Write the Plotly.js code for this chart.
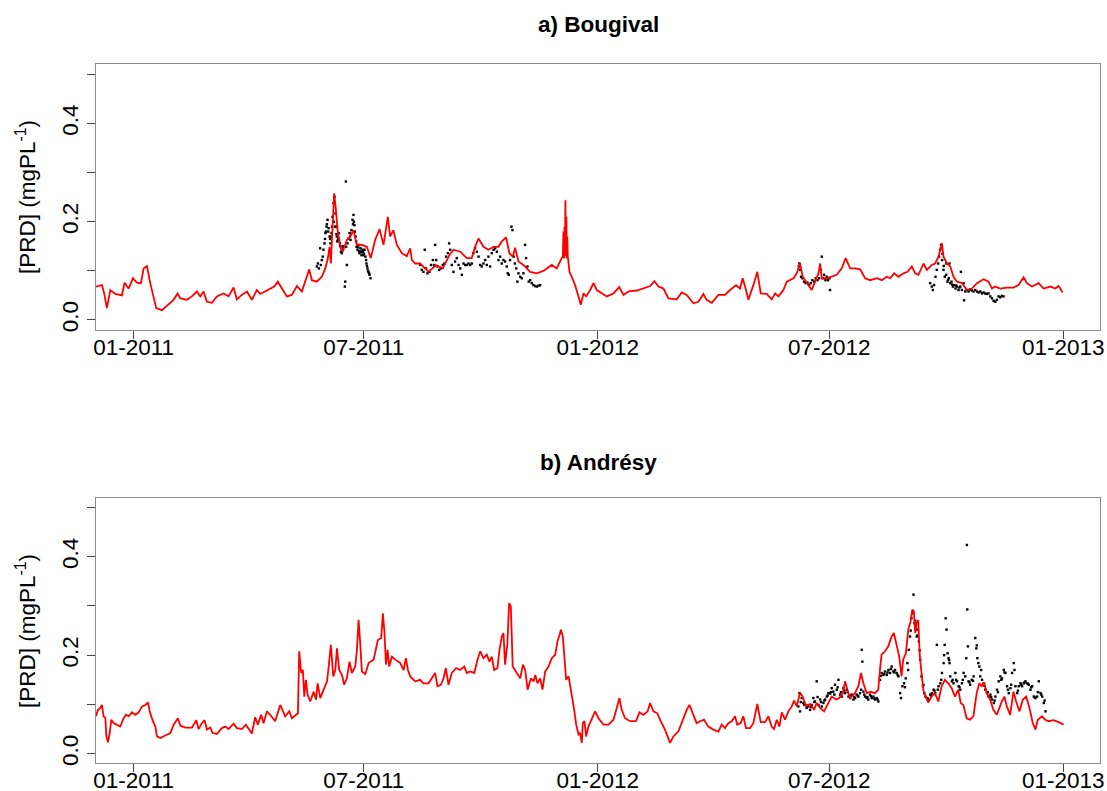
<!DOCTYPE html>
<html>
<head>
<meta charset="utf-8">
<script src="https://cdn.plot.ly/plotly-3.0.1.min.js"></script>
<style>html,body{margin:0;padding:0;background:#fff;}#chart{width:1107px;height:791px;}</style>
</head>
<body>
<div id="chart"></div>
<script>
// Days counted from 2011-01-01
const xTickVals = ['2011-01-01','2011-07-01','2012-01-01','2012-07-01','2013-01-01'];
const xTickText = ['01-2011','07-2011','01-2012','07-2012','01-2013'];
const yTickVals = [0, 0.2, 0.4];
const yTickText = ['0.0', '0.2', '0.4'];
const panelTitles = ['a) Bougival', 'b) Andrésy'];
const yTitle = '[PRD] (mgPL<sup>-1</sup>)';

// a) Bougival - simulated (red line)
const bougivalSimDays = [-29.6,-24.9,-23.1,-21.0,-18.3,-14.4,-9.2,-7.1,-3.9,-0.5,2.6,5.8,7.9,10.5,13.1,15.2,17.8,22.3,26.7,31.4,34.6,36.7,41.9,45.8,49.8,52.4,55.0,57.6,61.6,65.5,70.7,74.7,78.6,81.2,85.1,89.1,93.0,96.9,99.6,103.5,107.4,110.6,113.4,116.6,120.5,124.4,128.4,132.3,134.9,138.1,140.2,144.1,148.0,150.7,152.5,154.1,155.1,156.4,157.7,159.0,160.4,162.4,164.5,167.7,170.3,172.9,175.5,179.5,183.4,186.5,189.9,193.4,196.5,199.9,201.7,204.3,207.0,210.9,214.8,217.5,218.8,221.4,
225.3,231.9,237.8,243.1,248.3,251.5,256.8,262.0,265.9,268.5,271.2,275.1,279.0,283.0,286.9,289.5,292.9,295.5,298.2,300.0,302.6,306.5,311.8,317.0,322.2,328.8,332.7,336.6,337.5,338.0,338.4,338.8,339.2,339.5,339.9,340.3,340.6,341.0,341.4,342.7,344.5,347.1,349.8,351.6,353.7,355.8,359.0,361.6,364.2,368.1,372.1,377.3,381.8,385.2,389.2,395.7,401.0,406.2,409.5,412.7,416.6,420.5,427.1,431.0,434.9,440.2,444.1,448.0,450.6,454.6,459.8,465.0,469.0,473.7,476.8,478.9,481.5,483.4,
487.8,490.4,493.1,497.8,501.7,504.4,507.0,510.9,513.6,518.8,521.4,524.0,526.1,529.8,533.2,535.8,538.5,539.8,541.1,545.0,548.9,552.9,556.8,559.9,563.4,567.3,571.3,575.2,579.1,584.4,588.3,592.2,594.9,598.0,601.4,605.3,608.5,611.9,614.5,617.1,621.1,623.7,627.6,630.2,632.9,634.7,635.5,636.8,639.5,642.1,644.7,647.3,651.3,655.2,659.1,663.1,668.3,672.2,674.9,677.5,681.4,686.7,691.9,695.8,699.8,702.4,706.4,711.6,715.5,720.8,724.7,727.3,730.5];
const bougivalSimVals = [0.068,0.071,0.054,0.024,0.061,0.053,0.050,0.076,0.064,0.085,0.076,0.075,0.105,0.110,0.075,0.051,0.024,0.020,0.031,0.041,0.054,0.044,0.041,0.048,0.058,0.048,0.058,0.037,0.035,0.048,0.054,0.048,0.066,0.042,0.051,0.058,0.041,0.061,0.053,0.058,0.064,0.068,0.078,0.064,0.048,0.051,0.069,0.058,0.078,0.103,0.081,0.078,0.088,0.105,0.122,0.149,0.115,0.183,0.258,0.227,0.183,0.153,0.139,0.163,0.170,0.183,0.153,0.153,0.149,0.126,0.163,0.185,0.153,0.210,0.170,0.183,0.153,0.136,0.130,0.146,0.122,0.115,
0.115,0.098,0.112,0.105,0.132,0.143,0.139,0.126,0.126,0.149,0.166,0.149,0.143,0.149,0.149,0.160,0.168,0.136,0.129,0.147,0.119,0.112,0.098,0.095,0.100,0.112,0.105,0.126,0.130,0.180,0.125,0.190,0.130,0.244,0.140,0.210,0.125,0.170,0.130,0.098,0.088,0.071,0.048,0.031,0.054,0.048,0.061,0.075,0.061,0.054,0.048,0.054,0.067,0.051,0.058,0.060,0.064,0.069,0.079,0.068,0.064,0.044,0.042,0.056,0.051,0.034,0.037,0.053,0.041,0.035,0.051,0.051,0.061,0.071,0.064,0.085,0.061,0.041,
0.075,0.098,0.054,0.053,0.042,0.054,0.048,0.061,0.078,0.085,0.095,0.115,0.088,0.075,0.061,0.078,0.095,0.115,0.085,0.085,0.088,0.092,0.105,0.126,0.105,0.105,0.103,0.085,0.081,0.085,0.081,0.088,0.085,0.095,0.088,0.095,0.098,0.109,0.095,0.092,0.115,0.102,0.112,0.115,0.129,0.149,0.156,0.129,0.115,0.109,0.088,0.078,0.075,0.061,0.064,0.075,0.083,0.078,0.064,0.068,0.064,0.066,0.066,0.071,0.087,0.075,0.068,0.075,0.064,0.068,0.064,0.069,0.056];

// a) Bougival - observed (black dots)
const bougivalObsDays = [144.1,144.9,145.7,146.7,147.2,148.0,148.8,149.3,150.1,150.9,151.7,152.5,153.3,154.1,154.8,155.6,156.4,157.2,158.0,158.8,159.3,159.8,160.6,161.4,162.2,163.0,163.7,164.5,165.3,166.1,166.4,166.9,167.1,167.7,168.2,169.0,169.8,170.6,171.3,172.1,172.9,173.7,174.5,175.3,176.1,176.8,177.6,178.4,179.2,180.0,180.8,181.6,182.3,183.1,183.9,184.7,185.5,186.3,
150.5,151.2,152.0,153.0,154.5,155.2,156.0,157.5,158.5,159.5,160.2,161.0,162.5,163.5,164.8,170.2,171.0,172.5,173.2,174.0,175.0,176.5,177.2,178.0,179.6,180.4,181.2,182.8,183.5,184.3,185.1,
225.3,226.6,227.9,228.9,230.0,231.1,232.6,233.9,235.3,236.3,237.1,237.9,238.9,240.2,241.6,243.1,244.4,245.7,247.1,248.1,248.9,250.2,251.5,252.8,254.1,255.5,256.8,258.1,259.4,260.7,262.0,263.3,264.6,265.9,267.2,268.5,269.9,271.2,272.5,273.8,275.1,276.4,277.7,279.0,280.3,281.6,283.0,284.3,285.6,286.9,288.2,289.5,290.8,292.1,293.4,294.2,295.0,296.0,297.1,297.9,298.8,299.8,300.9,301.8,302.6,304.0,305.2,306.5,307.8,308.6,309.7,310.7,311.8,313.1,314.4,315.7,317.0,318.4,319.7,
523.0,523.5,524.0,524.8,525.8,527.1,528.4,529.8,531.1,532.4,533.7,535.0,536.3,537.7,539.0,540.3,541.1,541.9,542.9,544.0,545.0,546.1,547.1,547.6,
626.3,627.6,628.4,629.4,630.5,631.5,632.6,633.3,634.1,634.9,635.7,636.8,637.8,638.9,639.9,641.0,642.1,643.1,644.2,645.2,646.3,647.3,648.6,650.0,651.3,652.6,653.9,655.2,656.5,657.8,659.1,660.4,661.7,663.1,664.4,665.7,667.0,668.3,669.6,670.9,672.2,673.6,674.9,676.2,677.5,678.8,680.1,681.4,682.7,684.0,
639.0,641.5,650.5,653.0,636.0,637.0,640.5,643.6,646.8,649.3];
const bougivalObsVals = [0.109,0.115,0.105,0.146,0.112,0.122,0.129,0.143,0.156,0.177,0.190,0.204,0.187,0.170,0.156,0.177,0.210,0.238,0.251,0.217,0.190,0.170,0.163,0.177,0.156,0.139,0.136,0.143,0.149,0.068,0.078,0.282,0.149,0.112,0.156,0.166,0.177,0.163,0.183,0.204,0.214,0.193,0.170,0.149,0.143,0.153,0.136,0.146,0.132,0.143,0.132,0.143,0.129,0.115,0.105,0.098,0.092,0.085,
0.165,0.180,0.195,0.180,0.165,0.170,0.190,0.200,0.190,0.175,0.160,0.165,0.150,0.145,0.150,0.170,0.175,0.195,0.200,0.180,0.160,0.148,0.140,0.140,0.138,0.138,0.135,0.122,0.110,0.100,0.095,
0.112,0.102,0.098,0.143,0.105,0.095,0.098,0.112,0.122,0.112,0.153,0.122,0.109,0.102,0.105,0.112,0.115,0.129,0.136,0.156,0.143,0.112,0.098,0.119,0.126,0.112,0.105,0.092,0.115,0.112,0.112,0.115,0.112,0.115,0.136,0.146,0.139,0.129,0.112,0.109,0.115,0.122,0.112,0.129,0.109,0.136,0.143,0.146,0.139,0.122,0.129,0.115,0.122,0.119,0.109,0.095,0.092,0.122,0.190,0.183,0.129,0.115,0.105,0.078,0.095,0.088,0.085,0.095,0.153,0.126,0.109,0.078,0.081,0.075,0.071,0.069,0.068,0.070,0.071,
0.109,0.115,0.102,0.088,0.085,0.078,0.075,0.076,0.071,0.075,0.081,0.078,0.085,0.081,0.085,0.102,0.129,0.085,0.092,0.081,0.088,0.081,0.085,0.061,
0.075,0.068,0.061,0.071,0.088,0.102,0.115,0.129,0.143,0.153,0.122,0.102,0.088,0.092,0.078,0.085,0.075,0.078,0.068,0.071,0.064,0.068,0.061,0.068,0.061,0.075,0.058,0.061,0.058,0.062,0.060,0.058,0.061,0.058,0.056,0.058,0.054,0.056,0.054,0.053,0.054,0.048,0.044,0.039,0.037,0.041,0.048,0.046,0.049,0.048,
0.115,0.115,0.098,0.040,0.135,0.110,0.082,0.072,0.070,0.066];

// b) Andresy - simulated (red line)
const andresySimDays = [-29.6,-28.0,-26.2,-24.9,-23.6,-22.2,-21.4,-20.1,-18.8,-17.5,-15.7,-13.1,-10.5,-7.8,-6.0,-3.9,-1.3,1.3,4.0,6.6,9.2,11.3,13.1,15.2,17.1,18.4,21.0,24.9,28.9,31.5,34.9,36.7,40.6,45.9,49.3,51.1,53.7,55.8,57.7,60.3,62.1,65.5,69.4,72.0,74.7,78.6,81.2,85.1,88.3,93.0,95.6,97.7,100.3,102.2,104.8,107.4,111.3,115.3,119.2,122.4,124.5,129.2,130.2,131.8,133.1,134.2,135.5,136.8,138.9,141.6,143.4,144.7,146.8,149.4,152.1,153.4,155.1,157.0,158.6,159.9,161.7,163.8,165.6,167.7,169.8,171.6,174.3,175.6,176.9,178.2,179.5,182.2,184.8,188.7,192.1,194.7,196.0,197.3,198.4,199.7,201.0,203.1,205.7,209.7,212.3,214.1,215.7,217.5,221.4,
225.3,227.9,231.9,234.5,237.1,238.9,241.6,243.7,245.5,247.6,250.2,253.6,256.8,260.0,262.0,264.6,267.9,270.4,272.6,275.1,277.7,279.8,281.6,283.5,286.1,287.7,289.5,290.8,292.1,293.9,295.3,296.6,298.1,301.3,304.0,306.1,307.9,309.8,312.4,314.5,315.8,317.6,319.7,321.5,323.6,326.2,328.8,331.5,333.3,334.9,336.0,337.5,338.6,340.1,342.0,343.3,345.1,346.4,348.0,349.8,351.1,352.4,353.2,354.5,355.8,357.6,360.3,362.9,365.5,369.4,373.4,377.3,379.9,382.0,383.8,386.4,390.3,395.1,397.7,400.8,404.2,406.1,408.7,411.8,413.9,417.8,421.8,424.4,428.3,431.7,434.9,437.0,439.6,442.7,445.4,448.5,451.9,455.8,459.8,462.4,465.0,467.6,470.3,472.9,474.7,477.3,479.4,481.5,
484.7,487.3,490.4,493.1,496.5,499.1,501.7,503.6,505.7,507.8,509.6,512.2,514.8,517.5,519.3,521.4,524.0,526.1,528.8,531.9,535.0,537.1,539.8,542.9,545.5,548.9,552.3,554.9,557.6,559.4,561.2,563.3,567.2,569.9,571.9,573.8,576.4,579.5,582.9,585.5,586.8,588.1,590.8,593.4,596.0,597.8,599.9,602.0,603.8,605.1,607.2,609.1,610.9,612.2,613.5,614.6,615.6,616.9,618.2,619.6,620.9,622.7,624.8,627.4,630.0,632.7,635.3,637.9,640.6,643.2,645.8,648.4,650.3,652.4,655.0,657.6,660.3,662.9,665.0,666.8,668.7,670.8,673.4,676.0,678.7,680.8,682.6,684.7,686.6,689.2,691.8,693.9,696.5,699.2,701.8,704.4,707.0,709.1,711.0,714.2,716.8,719.4,723.4,727.3,731.2];
const andresySimVals = [0.076,0.089,0.093,0.099,0.076,0.072,0.035,0.023,0.042,0.069,0.062,0.059,0.055,0.072,0.079,0.076,0.084,0.079,0.084,0.096,0.099,0.104,0.082,0.066,0.055,0.035,0.032,0.037,0.042,0.059,0.072,0.057,0.053,0.053,0.068,0.050,0.062,0.068,0.049,0.053,0.042,0.040,0.052,0.055,0.050,0.061,0.052,0.050,0.059,0.041,0.074,0.059,0.079,0.062,0.086,0.079,0.066,0.099,0.076,0.086,0.072,0.082,0.208,0.164,0.170,0.116,0.150,0.120,0.106,0.126,0.110,0.143,0.113,0.130,0.147,0.177,0.221,0.157,0.170,0.214,0.170,0.160,0.140,0.153,0.187,0.164,0.177,0.211,0.272,0.224,0.167,0.162,0.184,0.191,0.231,0.235,0.285,0.245,0.181,0.211,0.177,0.197,0.191,0.184,0.170,0.194,0.170,0.157,0.147,
0.150,0.143,0.143,0.153,0.164,0.137,0.140,0.153,0.174,0.140,0.164,0.174,0.170,0.177,0.164,0.167,0.164,0.191,0.208,0.194,0.201,0.187,0.197,0.170,0.174,0.211,0.238,0.245,0.181,0.224,0.306,0.299,0.177,0.164,0.153,0.181,0.170,0.130,0.153,0.147,0.160,0.143,0.153,0.130,0.167,0.177,0.194,0.201,0.228,0.241,0.252,0.238,0.197,0.150,0.157,0.133,0.110,0.089,0.059,0.039,0.042,0.022,0.062,0.066,0.035,0.055,0.072,0.086,0.072,0.059,0.059,0.069,0.093,0.113,0.089,0.072,0.066,0.066,0.084,0.079,0.086,0.103,0.086,0.082,0.069,0.049,0.022,0.035,0.045,0.069,0.089,0.099,0.082,0.062,0.066,0.069,0.055,0.049,0.045,0.059,0.052,0.062,0.066,0.076,0.059,0.062,0.076,0.052,
0.052,0.062,0.101,0.064,0.064,0.076,0.055,0.050,0.069,0.055,0.084,0.069,0.086,0.096,0.108,0.096,0.124,0.116,0.096,0.101,0.089,0.103,0.093,0.086,0.099,0.116,0.110,0.113,0.123,0.147,0.130,0.113,0.123,0.137,0.164,0.143,0.123,0.126,0.123,0.130,0.170,0.201,0.208,0.218,0.238,0.245,0.221,0.197,0.157,0.191,0.204,0.252,0.268,0.292,0.289,0.245,0.265,0.272,0.197,0.157,0.130,0.116,0.104,0.116,0.123,0.106,0.137,0.150,0.143,0.133,0.116,0.130,0.103,0.099,0.072,0.069,0.076,0.123,0.143,0.137,0.145,0.123,0.110,0.089,0.079,0.093,0.106,0.116,0.096,0.079,0.126,0.106,0.086,0.110,0.116,0.093,0.062,0.049,0.069,0.076,0.069,0.066,0.068,0.064,0.059];

// b) Andresy - observed (black dots)
const andresyObsDays = [522.7,523.5,524.0,525.3,526.6,527.9,529.2,530.5,531.9,533.2,534.5,535.8,537.1,538.5,539.8,541.1,542.4,543.7,545.0,546.3,547.6,548.9,550.2,551.5,552.9,554.2,555.5,556.8,558.1,559.4,560.8,562.1,563.4,564.7,566.0,567.3,568.5,569.9,571.2,572.5,573.0,573.8,575.1,576.4,577.7,579.0,580.4,581.7,583.0,584.3,585.6,586.9,588.2,589.5,590.8,592.2,593.5,594.8,596.1,597.4,598.7,600.0,601.4,602.7,603.4,604.5,605.8,607.1,608.4,609.5,610.5,611.6,612.4,613.2,614.0,615.0,615.8,616.6,617.4,618.5,619.5,620.6,621.7,622.7,623.8,625.1,626.4,627.7,629.0,630.3,631.6,632.9,634.3,635.6,636.9,637.7,638.5,639.2,640.0,640.8,641.6,642.1,643.4,644.7,646.1,647.4,648.7,650.0,651.3,652.6,653.9,654.7,655.2,655.5,656.0,656.5,657.8,659.1,660.5,661.8,662.6,663.4,664.2,665.0,665.7,667.1,668.4,669.7,671.0,672.3,673.7,675.0,676.3,677.6,678.9,680.2,681.5,682.8,684.2,685.5,686.8,688.1,689.4,690.7,692.0,693.4,694.7,696.0,697.3,698.6,699.9,701.2,702.6,703.9,705.2,706.5,707.8,709.1,710.4,711.7,713.1,714.4,715.7,717.0,
524.6,527.2,529.9,532.5,535.2,537.8,540.5,543.1,545.7,548.3,551.0,553.6,556.2,558.8,561.5,564.1,566.7,569.3,572.0,574.5,577.0,579.7,582.4,585.0,587.5,590.2,592.8,595.5,598.1,600.7,606.5,609.0,611.0,612.8,614.5,616.2,618.0,621.0,624.5,627.0,629.7,632.3,635.0,637.3,641.2,644.0,646.7,649.4,652.0,657.2,660.0,663.0,666.4,669.0,671.6,674.3,677.0,679.6,682.2,684.8,687.4,690.0,692.6,695.3,698.0,700.6,703.2,705.8,708.4,711.0,713.7,716.3];
const andresyObsVals = [0.096,0.123,0.086,0.113,0.103,0.099,0.093,0.096,0.089,0.099,0.113,0.106,0.147,0.099,0.110,0.096,0.103,0.110,0.116,0.123,0.122,0.133,0.126,0.140,0.130,0.150,0.120,0.116,0.133,0.123,0.130,0.116,0.113,0.120,0.110,0.113,0.120,0.116,0.123,0.211,0.187,0.126,0.116,0.113,0.110,0.120,0.113,0.116,0.110,0.113,0.106,0.150,0.164,0.160,0.167,0.160,0.170,0.164,0.177,0.167,0.170,0.164,0.157,0.123,0.113,0.137,0.143,0.153,0.184,0.211,0.238,0.275,0.285,0.323,0.265,0.252,0.238,0.252,0.228,0.191,0.157,0.137,0.123,0.116,0.113,0.110,0.120,0.123,0.130,0.123,0.221,0.137,0.143,0.164,0.184,0.221,0.275,0.252,0.204,0.194,0.184,0.157,0.147,0.143,0.164,0.147,0.137,0.130,0.143,0.164,0.157,0.194,0.424,0.293,0.218,0.147,0.140,0.150,0.157,0.235,0.214,0.194,0.184,0.177,0.157,0.150,0.143,0.130,0.123,0.116,0.120,0.110,0.103,0.116,0.130,0.147,0.157,0.153,0.170,0.164,0.137,0.123,0.133,0.164,0.184,0.137,0.123,0.137,0.143,0.137,0.143,0.147,0.143,0.140,0.130,0.137,0.116,0.113,0.116,0.147,0.123,0.116,0.103,0.086,
0.105,0.100,0.098,0.095,0.105,0.115,0.105,0.108,0.118,0.125,0.120,0.135,0.125,0.128,0.125,0.118,0.115,0.118,0.130,0.120,0.115,0.117,0.112,0.110,0.158,0.162,0.165,0.172,0.165,0.160,0.135,0.170,0.250,0.290,0.270,0.240,0.210,0.140,0.112,0.118,0.128,0.130,0.150,0.200,0.190,0.150,0.150,0.135,0.150,0.145,0.148,0.220,0.170,0.138,0.125,0.115,0.108,0.125,0.150,0.165,0.130,0.140,0.170,0.128,0.140,0.145,0.142,0.135,0.115,0.125,0.120,0.108];

const BASE = Date.UTC(2011, 0, 1);
function toDate(d) {
  return new Date(BASE + Math.round(d * 86400000)).toISOString().slice(0, 19).replace('T', ' ');
}

const FONT = 'Liberation Sans, Arial, Helvetica, sans-serif';
const FS = 22.5;
const xRange = ['2010-12-02 10:48', '2013-01-29 20:24'];

function obsTrace(days, vals, xa, ya) {
  return { type: 'scatter', mode: 'markers', x: days.map(toDate), y: vals, xaxis: xa, yaxis: ya,
    marker: { color: '#000000', size: 2.4, symbol: 'square' }, hoverinfo: 'x+y', name: 'observed' };
}
function simTrace(days, vals, xa, ya) {
  return { type: 'scatter', mode: 'lines', x: days.map(toDate), y: vals, xaxis: xa, yaxis: ya,
    line: { color: '#ff0000', width: 1.8 }, name: 'simulated' };
}

const data = [
  obsTrace(bougivalObsDays, bougivalObsVals, 'x', 'y'),
  simTrace(bougivalSimDays, bougivalSimVals, 'x', 'y'),
  obsTrace(andresyObsDays, andresyObsVals, 'x2', 'y2'),
  simTrace(andresySimDays, andresySimVals, 'x2', 'y2')
];

function xAxis(anchor) {
  return { type: 'date', range: xRange, anchor: anchor, domain: [0, 1],
    tickmode: 'array', tickvals: xTickVals, ticktext: xTickText,
    ticks: 'outside', ticklen: 8, tickwidth: 1, tickcolor: '#444',
    showline: true, mirror: true, linecolor: '#8c8c8c', linewidth: 1,
    showgrid: false, zeroline: false, ticklabelstandoff: -11,
    tickfont: { family: FONT, size: FS, color: '#000' } };
}
function yAxis(anchor, domain, range) {
  return { anchor: anchor, domain: domain, range: range,
    tickmode: 'array', tickvals: yTickVals, ticktext: yTickText, tickangle: -90,
    ticks: 'outside', ticklen: 8, tickwidth: 1, tickcolor: '#444',
    minor: { tick0: 0, dtick: 0.1, ticks: 'outside', ticklen: 8, tickwidth: 1, tickcolor: '#444', showgrid: false },
    showline: true, mirror: true, linecolor: '#8c8c8c', linewidth: 1,
    showgrid: false, zeroline: false, ticklabelstandoff: 0,
    tickfont: { family: FONT, size: FS, color: '#000' } };
}

const layout = {
  width: 1107, height: 791,
  margin: { l: 96, r: 7, t: 64, b: 28 },
  paper_bgcolor: '#ffffff', plot_bgcolor: '#ffffff',
  showlegend: false,
  font: { family: FONT, size: FS, color: '#000' },
  xaxis: xAxis('y'),
  yaxis: yAxis('x', [0.6195, 1], [-0.0204, 0.5214]),
  xaxis2: xAxis('y2'),
  yaxis2: yAxis('x2', [0, 0.3791], [-0.0189, 0.5193]),
  annotations: [
    { text: '<b>' + panelTitles[0] + '</b>', xref: 'paper', yref: 'paper', x: 0.5, y: 1.0558,
      xanchor: 'center', yanchor: 'middle', showarrow: false, font: { family: FONT, size: FS, color: '#000' } },
    { text: '<b>' + panelTitles[1] + '</b>', xref: 'paper', yref: 'paper', x: 0.5, y: 0.4306,
      xanchor: 'center', yanchor: 'middle', showarrow: false, font: { family: FONT, size: FS, color: '#000' } },
    { text: yTitle, xref: 'paper', yref: 'paper', x: -0.0697, y: 0.8097, textangle: -90,
      xanchor: 'center', yanchor: 'middle', showarrow: false, font: { family: FONT, size: FS, color: '#000' } },
    { text: yTitle, xref: 'paper', yref: 'paper', x: -0.0697, y: 0.1889, textangle: -90,
      xanchor: 'center', yanchor: 'middle', showarrow: false, font: { family: FONT, size: FS, color: '#000' } }
  ]
};

Plotly.newPlot('chart', data, layout, { displayModeBar: false, staticPlot: true });
</script>
</body>
</html>
